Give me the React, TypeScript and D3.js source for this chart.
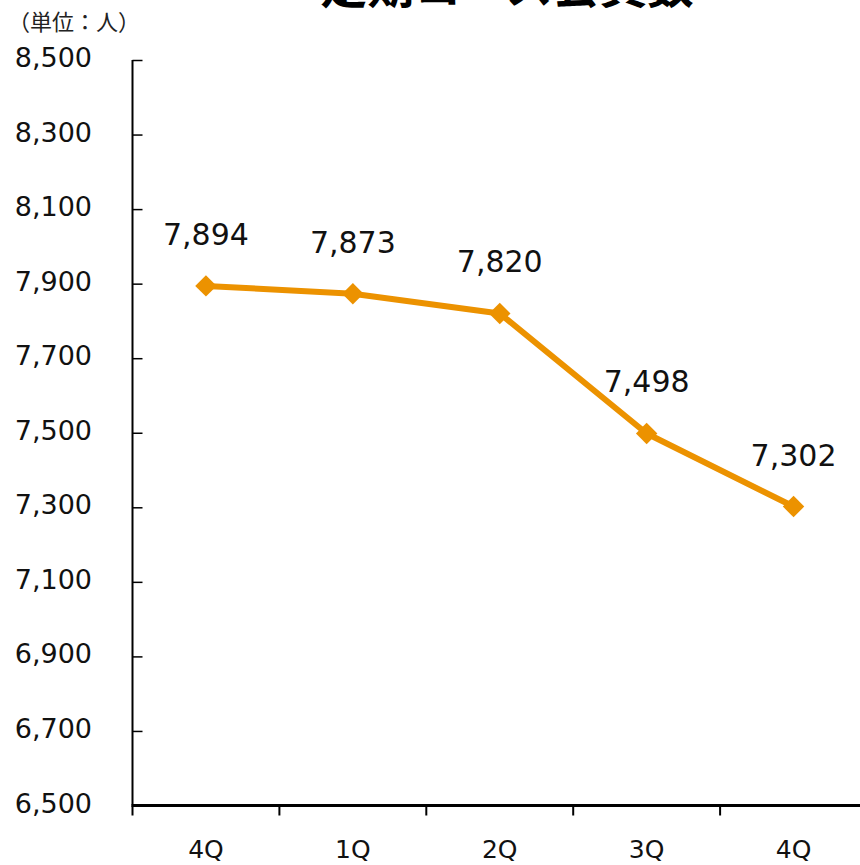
import * as d3 from 'd3';
import { useEffect, useRef } from 'react';

// chart values
const QUARTERS = ['4Q', '1Q', '2Q', '3Q', '4Q'];
const MEMBERS = [7894, 7873, 7820, 7498, 7302];
const Y_TICKS = [6500, 6700, 6900, 7100, 7300, 7500, 7700, 7900, 8100, 8300, 8500];
const TITLE = '定期コース会員数';
const UNIT = '（単位：人）';

const W = 860;
const H = 865;
const PLOT = { LEFT: 132.5, RIGHT: 867, TOP: 60, BOTTOM: 805.5 };
const ORANGE = '#EC9200';
const LATIN = '"DejaVu Sans", Verdana, sans-serif';
const CJK = '"Noto Sans CJK JP", sans-serif';

const App = () => {
  const svgRef = useRef<SVGSVGElement>(null);

  useEffect(() => {
    const svg = d3.select(svgRef.current);
    svg.selectAll('*').remove();

    const x = d3
      .scaleBand<number>()
      .domain(d3.range(QUARTERS.length))
      .range([PLOT.LEFT, PLOT.RIGHT]);
    const y = d3
      .scaleLinear()
      .domain([6500, 8500])
      .range([PLOT.BOTTOM, PLOT.TOP]);
    const cx = (i: number) => (x(i) ?? 0) + x.bandwidth() / 2;

    // title (top cut off like the source)
    svg
      .append('text')
      .attr('x', 507)
      .attr('y', 3)
      .attr('text-anchor', 'middle')
      .attr('font-family', CJK)
      .attr('font-weight', 700)
      .attr('font-size', 47)
      .text(TITLE);

    svg
      .append('text')
      .attr('x', 8)
      .attr('y', 30)
      .attr('font-family', CJK)
      .attr('font-size', 22)
      .attr('fill', '#222')
      .text(UNIT);

    // y axis, ticks inside
    const yAxis = svg
      .append('g')
      .attr('transform', `translate(${PLOT.LEFT},0)`)
      .call(
        d3
          .axisRight(y)
          .tickValues(Y_TICKS)
          .tickSize(10)
          .tickFormat(() => '')
      );
    yAxis.select('.domain').attr('stroke', '#000').attr('stroke-width', 2).attr('d', `M0,${PLOT.TOP}V${PLOT.BOTTOM}`);
    yAxis.selectAll('.tick line').attr('stroke', '#000').attr('stroke-width', 1.5);

    svg
      .append('g')
      .selectAll('text')
      .data(Y_TICKS)
      .join('text')
      .attr('x', 92)
      .attr('y', (d) => y(d) + 7)
      .attr('text-anchor', 'end')
      .attr('font-family', LATIN)
      .attr('font-size', 27)
      .attr('fill', '#111')
      .text((d) => d3.format(',')(d));

    // x axis, ticks at band edges
    const xAxis = svg.append('g').attr('transform', `translate(0,${PLOT.BOTTOM})`);
    xAxis
      .append('line')
      .attr('x1', PLOT.LEFT - 1)
      .attr('x2', PLOT.RIGHT)
      .attr('stroke', '#000')
      .attr('stroke-width', 3);
    xAxis
      .selectAll('line.tk')
      .data(d3.range(QUARTERS.length))
      .join('line')
      .attr('class', 'tk')
      .attr('x1', (i) => x(i) ?? 0)
      .attr('x2', (i) => x(i) ?? 0)
      .attr('y1', 0)
      .attr('y2', 10)
      .attr('stroke', '#000')
      .attr('stroke-width', 2);
    xAxis
      .selectAll('text')
      .data(QUARTERS)
      .join('text')
      .attr('x', (_, i) => cx(i))
      .attr('y', 52)
      .attr('text-anchor', 'middle')
      .attr('font-family', LATIN)
      .attr('font-size', 25)
      .attr('fill', '#111')
      .text((d) => d);

    // series
    const line = d3
      .line<number>()
      .x((_, i) => cx(i))
      .y((d) => y(d));
    svg
      .append('path')
      .datum(MEMBERS)
      .attr('d', line)
      .attr('fill', 'none')
      .attr('stroke', ORANGE)
      .attr('stroke-width', 6)
      .attr('stroke-linejoin', 'round');

    svg
      .append('g')
      .selectAll('path')
      .data(MEMBERS)
      .join('path')
      .attr('transform', (d, i) => `translate(${cx(i)},${y(d)}) rotate(45)`)
      .attr('d', d3.symbol(d3.symbolSquare, 230))
      .attr('fill', ORANGE);

    svg
      .append('g')
      .selectAll('text')
      .data(MEMBERS)
      .join('text')
      .attr('x', (_, i) => cx(i))
      .attr('y', (d) => y(d) - 41)
      .attr('text-anchor', 'middle')
      .attr('font-family', LATIN)
      .attr('font-size', 30)
      .attr('fill', '#111')
      .text((d) => d3.format(',')(d));
  }, []);

  return (
    <svg
      ref={svgRef}
      width={W}
      height={H}
      style={{ position: 'absolute', left: 0, top: 0, background: '#fff' }}
    />
  );
};

export default App;
